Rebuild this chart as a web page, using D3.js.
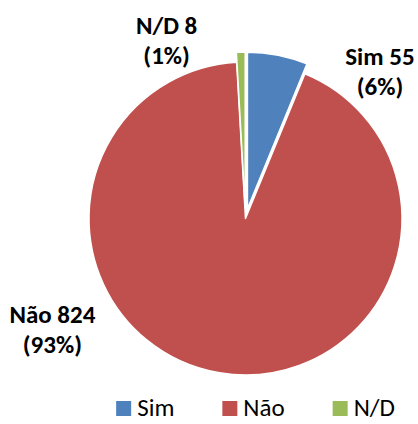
<!DOCTYPE html>
<html>
<head>
<meta charset="utf-8">
<script src="https://cdn.jsdelivr.net/npm/d3@7"></script>
<style>
  body { margin: 0; background: #fff; }
  svg { display: block; font-family: Carlito, Calibri, Lato, sans-serif; }
</style>
</head>
<body>
<div id="chart"></div>
<script>
// values
const categories = ["Sim", "Não", "N/D"];
const counts = [55, 824, 8];
const colors = ["#4F81BD", "#C0504D", "#9BBB59"];

const width = 418, height = 424;
const cx = 245.5, cy = 218.5, radius = 156.5;

const total = d3.sum(counts);
const data = categories.map((c, i) => ({ name: c, value: counts[i], color: colors[i] }));

const svg = d3.select("#chart")
    .append("svg")
    .attr("width", width)
    .attr("height", height);

const pie = d3.pie()
    .sort(null)
    .value(d => d.value);

const arc = d3.arc()
    .innerRadius(0)
    .outerRadius(radius);

const arcs = pie(data);

// small slices are pulled out a bit, like the original
const explode = { "Sim": 10, "N/D": 10 };

const g = svg.append("g")
    .attr("transform", `translate(${cx},${cy})`);

g.selectAll("path.slice")
    .data(arcs)
    .join("path")
    .attr("class", "slice")
    .attr("d", arc)
    .attr("fill", d => d.data.color)
    .attr("stroke", "#fff")
    .attr("stroke-width", 1.5)
    .attr("stroke-linejoin", "round")
    .attr("transform", d => {
        const off = explode[d.data.name] || 0;
        const a = (d.startAngle + d.endAngle) / 2;
        return `translate(${off * Math.sin(a)},${-off * Math.cos(a)})`;
    });

// label placement (angle in degrees from 12 o'clock, distance from centre)
const labelPos = {
    "Sim": { angle: 42.5, dist: 199 },
    "Não": { angle: 240, dist: 223 },
    "N/D": { angle: -24, dist: 194 }
};

const labels = g.selectAll("text.lbl")
    .data(arcs)
    .join("text")
    .attr("class", "lbl")
    .attr("text-anchor", "middle")
    .attr("font-weight", "bold")
    .attr("font-size", 25)
    .attr("fill", "#000")
    .attr("transform", d => {
        const p = labelPos[d.data.name];
        const a = p.angle * Math.PI / 180;
        return `translate(${p.dist * Math.sin(a)},${-p.dist * Math.cos(a)})`;
    });

labels.append("tspan")
    .attr("x", 0)
    .attr("y", -7)
    .text(d => `${d.data.name} ${d.data.value}`);

labels.append("tspan")
    .attr("x", 0)
    .attr("y", 23)
    .text(d => `(${Math.round(d.data.value / total * 100)}%)`);

// legend
const legend = svg.append("g").attr("class", "legend");
const items = legend.selectAll("g.item")
    .data(data)
    .join("g")
    .attr("class", "item");

items.append("rect")
    .attr("width", 15)
    .attr("height", 15)
    .attr("y", -15)
    .attr("fill", d => d.color);

items.append("text")
    .attr("x", 21)
    .attr("y", 0)
    .attr("font-size", 25)
    .attr("fill", "#000")
    .text(d => d.name);

let x = 0;
items.each(function() {
    const it = d3.select(this);
    it.attr("transform", `translate(${x},0)`);
    const w = 21 + it.select("text").node().getComputedTextLength();
    x += w + 48;
});
const legendW = x - 48;
legend.attr("transform", `translate(${255.5 - legendW / 2},416)`);
</script>
</body>
</html>
